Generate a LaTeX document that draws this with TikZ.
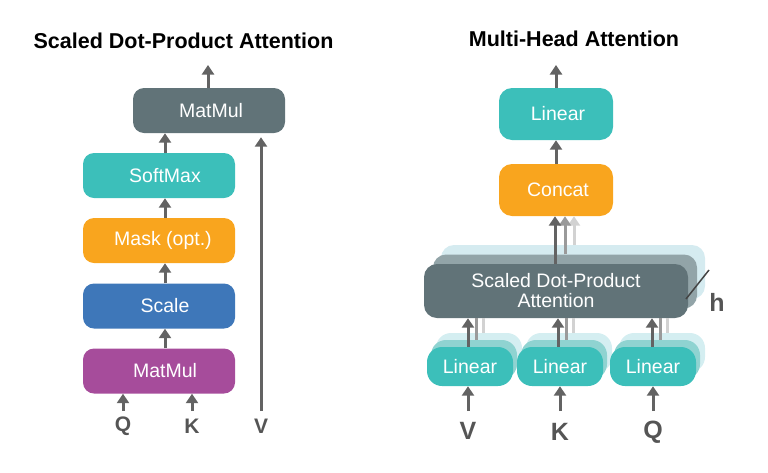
\documentclass[tikz,border=0pt]{standalone}
\usepackage{fontspec}
\setmainfont{Liberation Sans}
\usetikzlibrary{arrows.meta}
\definecolor{slate}{HTML}{617378}
\definecolor{slatemid}{HTML}{92A4A8}
\definecolor{slatelight}{HTML}{D5EBF0}
\definecolor{tealA}{HTML}{3CBFBA}
\definecolor{tealmid}{HTML}{8FD3D1}
\definecolor{teallight}{HTML}{D4EEF1}
\definecolor{orangeA}{HTML}{F9A51E}
\definecolor{blueA}{HTML}{3E77B9}
\definecolor{purpleA}{HTML}{A64C9B}
\definecolor{arrowgray}{HTML}{636363}
\definecolor{arrowmid}{HTML}{9A9A9A}
\definecolor{arrowlight}{HTML}{D2D2D2}
\definecolor{labgray}{HTML}{555555}
\begin{document}
\begin{tikzpicture}[x=1pt,y=-1pt,
  box/.style={rectangle, rounded corners=11pt, minimum width=152pt, minimum height=45pt,
    inner sep=0pt, text=white, font=\fontsize{19.5}{22}\selectfont},
  lin/.style={rectangle, rounded corners=15pt, minimum width=86pt, minimum height=39pt,
    inner sep=0pt, text=white, font=\fontsize{19.5}{22}\selectfont},
  sdpa/.style={rectangle, rounded corners=13pt, minimum width=264pt, minimum height=54pt,
    inner sep=0pt, text=white, align=center, font=\fontsize{19.5}{20}\selectfont},
  arr/.style={line width=3pt, draw=arrowgray, -{Triangle[width=12pt,length=9.5pt]}},
  arrmid/.style={line width=3pt, draw=arrowmid, -{Triangle[width=12pt,length=9.5pt]}},
  arrlight/.style={line width=3pt, draw=arrowlight, -{Triangle[width=12pt,length=9.5pt]}},
  linemid/.style={line width=3pt, draw=arrowmid},
  linelight/.style={line width=3pt, draw=arrowlight},
  title/.style={font=\fontsize{21.5}{24}\selectfont\bfseries, text=black, inner sep=0pt},
  labL/.style={font=\fontsize{21}{24}\selectfont\bfseries, text=labgray, inner sep=0pt},
  labR/.style={font=\fontsize{25}{28}\selectfont\bfseries, text=labgray, inner sep=0pt}]
\useasboundingbox (0,0) rectangle (768,472);

% ---------------- Left: Scaled Dot-Product Attention ----------------
\node[title] (titleL) at (183.5,41) {Scaled Dot-Product Attention};
\node[box, fill=slate] (mmTop) at (209,110.5) {\hspace*{4pt}MatMul};
\node[box, fill=tealA] (soft) at (159,175.5) {\hspace*{12pt}SoftMax};
\node[box, fill=orangeA] (mask) at (159,240.5) {\hspace*{8pt}Mask (opt.)};
\node[box, fill=blueA] (scale) at (159,306) {\hspace*{12pt}Scale};
\node[box, fill=purpleA] (mmBot) at (159,371) {\hspace*{12pt}MatMul};

\coordinate (ax) at (165,0);
\coordinate (outL) at (208,65);
\draw[arr] (mmTop.north -| outL) -- (outL);
\draw[arr] (soft.north -| ax) -- (mmTop.south -| ax);
\draw[arr] (mask.north -| ax) -- (soft.south -| ax);
\draw[arr] (scale.north -| ax) -- (mask.south -| ax);
\draw[arr] (mmBot.north -| ax) -- (scale.south -| ax);

\node[labL] (qL) at (123,426) {Q};
\node[labL] (kL) at (192,426) {K};
\node[labL] (vL) at (261,426) {V};
\coordinate (qLs) at (123,411);
\coordinate (kLs) at (192,411);
\coordinate (vLs) at (261,411);
\draw[arr] (qLs) -- (mmBot.south -| qLs);
\draw[arr] (kLs) -- (mmBot.south -| kLs);
\draw[arr, shorten >=4pt] (vLs) -- (mmTop.south -| vLs);

% ---------------- Right: Multi-Head Attention ----------------
\node[title] (titleR) at (574,39) {Multi-Head Attention};
\node[box, fill=tealA, minimum width=114pt, minimum height=52pt, rounded corners=13pt] (linTop) at (556,114) {\hspace*{4pt}Linear};
\node[box, fill=orangeA, minimum width=114pt, minimum height=52pt, rounded corners=13pt] (concat) at (556,190) {\hspace*{4pt}Concat};

\coordinate (outR) at (556,65);
\draw[arr] (linTop.north -| outR) -- (outR);
\draw[arr] (concat.north -| outR) -- (linTop.south -| outR);

% stacked attention heads
\node[sdpa, fill=slatelight] (sd3) at (573,272) {};
\node[sdpa, fill=slatemid] (sd2) at (565,281.5) {};
\node[sdpa, fill=slate] (sd1) at (556,291) {Scaled Dot-Product\\Attention};

% stacked linear layers
\foreach \n/\x in {V/470, K/560, Q/653} {
  \node[lin, fill=teallight] (lin\n3) at (\x+9,352.5) {};
  \node[lin, fill=tealmid] (lin\n2) at (\x+4,359.5) {};
  \node[lin, fill=tealA] (lin\n) at (\x,366.5) {Linear};
}

% lines into concat
\coordinate (c1) at (555,0);
\coordinate (c2) at (565,0);
\coordinate (c3) at (574,0);
\draw[arrlight] (sd3.north -| c3) -- (concat.south -| c3);
\draw[arrmid] (sd2.north -| c2) -- (concat.south -| c2);
\draw[arr] (sd1.north -| c1) -- (concat.south -| c1);

% lines from linear layers to attention
\foreach \n/\x in {V/468, K/558, Q/652} {
  \coordinate (a\n) at (\x,0);
  \coordinate (b\n) at (\x+8,0);
  \coordinate (d\n) at (\x+15,0);
  \draw[linelight] (lin\n3.north -| d\n) -- (sd1.south -| d\n);
  \draw[linemid] (lin\n2.north -| b\n) -- (sd1.south -| b\n);
  \draw[arr] (lin\n.north -| a\n) -- (sd1.south -| a\n);
}

% inputs
\node[labR] (vR) at (468,431) {V};
\node[labR] (kR) at (560,432) {K};
\node[labR] (qR) at (653,432) {Q};
\coordinate (vRs) at (468,411);
\coordinate (kRs) at (560,411);
\coordinate (qRs) at (653,411);
\draw[arr] (vRs) -- (linV.south -| vRs);
\draw[arr] (kRs) -- (linK.south -| kRs);
\draw[arr] (qRs) -- (linQ.south -| qRs);

% h marker
\coordinate (h1) at (686,299);
\coordinate (h2) at (709,270);
\draw[line width=1.5pt, draw=labgray!80!black] (h1) -- (h2);
\node[labR] (hR) at (717,302) {h};
\end{tikzpicture}
\end{document}
